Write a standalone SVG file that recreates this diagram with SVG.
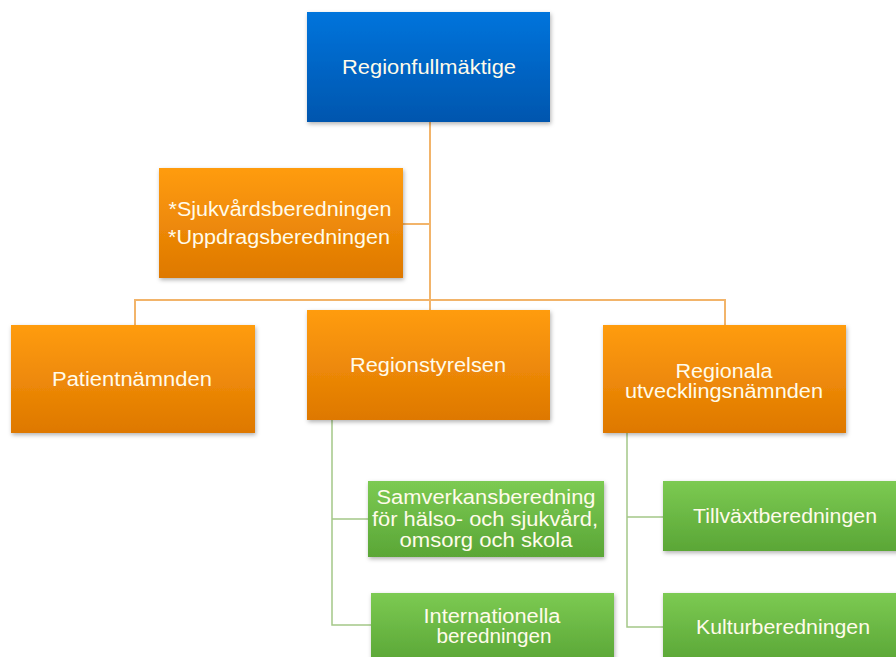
<svg xmlns="http://www.w3.org/2000/svg" width="896" height="657" viewBox="0 0 896 657">
<style>
text{font-family:"Liberation Sans",Arial,sans-serif;font-size:19.5px;fill:#fffbea;text-anchor:middle}
.oc{stroke:#f2b46a;stroke-width:2;fill:none}
.gc{stroke:#a4c888;stroke-width:1.5;fill:none}
</style>
<defs>
<linearGradient id="gb" x1="0" y1="0" x2="0" y2="1"><stop offset="0" stop-color="#0074dc"/><stop offset="1" stop-color="#0056ae"/></linearGradient>
<linearGradient id="go" x1="0" y1="0" x2="0" y2="1"><stop offset="0" stop-color="#ff9c10"/><stop offset="1" stop-color="#de7800"/></linearGradient>
<linearGradient id="gg" x1="0" y1="0" x2="0" y2="1"><stop offset="0" stop-color="#7cca52"/><stop offset="1" stop-color="#5aa636"/></linearGradient>
<filter id="sh" x="-10%" y="-10%" width="120%" height="130%"><feDropShadow dx="1" dy="2" stdDeviation="2" flood-color="#000" flood-opacity="0.3"/></filter>
</defs>
<rect width="896" height="657" fill="#fff"/>
<g id="connectors">
<path class="oc" d="M430 122V300M403 224H430M135 325V300H725V325M430 300V310"/>
<path class="gc" d="M332 420V625H371M332 519H368M627 433V627H663M627 517H663"/>
</g>
<g id="n-regionfullmaktige"><rect x="307" y="12" width="243" height="110" fill="url(#gb)" filter="url(#sh)"/><text x="429" y="74" textLength="174" lengthAdjust="spacingAndGlyphs">Regionfullmäktige</text></g>
<g id="n-beredningar"><rect x="159" y="168" width="244" height="110" fill="url(#go)" filter="url(#sh)"/><text x="280" y="216" textLength="223" lengthAdjust="spacingAndGlyphs">*Sjukvårdsberedningen</text><text x="279" y="244" textLength="222" lengthAdjust="spacingAndGlyphs">*Uppdragsberedningen</text></g>
<g id="n-patient"><rect x="11" y="325" width="244" height="108" fill="url(#go)" filter="url(#sh)"/><text x="132" y="386" textLength="160" lengthAdjust="spacingAndGlyphs">Patientnämnden</text></g>
<g id="n-regionstyrelsen"><rect x="307" y="310" width="243" height="110" fill="url(#go)" filter="url(#sh)"/><text x="428" y="372" textLength="156" lengthAdjust="spacingAndGlyphs">Regionstyrelsen</text></g>
<g id="n-regionala"><rect x="603" y="325" width="243" height="108" fill="url(#go)" filter="url(#sh)"/><text x="724" y="378" textLength="97" lengthAdjust="spacingAndGlyphs">Regionala</text><text x="724" y="398" textLength="198" lengthAdjust="spacingAndGlyphs">utvecklingsnämnden</text></g>
<g id="n-samverkan"><rect x="368" y="481" width="236" height="76" fill="url(#gg)" filter="url(#sh)"/><text x="486" y="504" textLength="219" lengthAdjust="spacingAndGlyphs">Samverkansberedning</text><text x="485" y="526" textLength="226" lengthAdjust="spacingAndGlyphs">för hälso- och sjukvård,</text><text x="486" y="547" textLength="173" lengthAdjust="spacingAndGlyphs">omsorg och skola</text></g>
<g id="n-internationella"><rect x="371" y="593" width="243" height="70" fill="url(#gg)" filter="url(#sh)"/><text x="492" y="623" textLength="137" lengthAdjust="spacingAndGlyphs">Internationella</text><text x="494" y="643" textLength="115" lengthAdjust="spacingAndGlyphs">beredningen</text></g>
<g id="n-tillvaxt"><rect x="663" y="481" width="240" height="70" fill="url(#gg)" filter="url(#sh)"/><text x="785" y="523" textLength="184" lengthAdjust="spacingAndGlyphs">Tillväxtberedningen</text></g>
<g id="n-kultur"><rect x="663" y="593" width="240" height="70" fill="url(#gg)" filter="url(#sh)"/><text x="783" y="634" textLength="174" lengthAdjust="spacingAndGlyphs">Kulturberedningen</text></g>
</svg>
